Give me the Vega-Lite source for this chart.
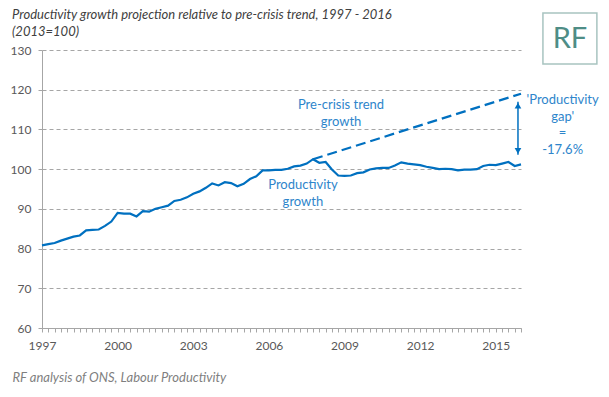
{
  "$schema": "https://vega.github.io/schema/vega-lite/v6.json",
  "width": 479,
  "height": 278,
  "autosize": {"type": "none"},
  "padding": {"left": 42, "top": 50, "right": 88, "bottom": 69},
  "background": "white",
  "config": {"view": {"stroke": null}, "font": "Lato"},
  "title": {
    "text": ["Productivity growth projection relative to pre-crisis trend, 1997 - 2016", "(2013=100)"],
    "anchor": "start", "frame": "group", "dx": -30, "dy": 36.5, "offset": 10,
    "font": "Lato", "fontSize": 13, "fontStyle": "italic", "fontWeight": "normal",
    "color": "#404040", "lineHeight": 16.5
  },
  "datasets": {
    "prod": [
      {"t": 1997.00, "v": 80.8}, {"t": 1997.25, "v": 81.1}, {"t": 1997.50, "v": 81.4}, {"t": 1997.75, "v": 82.0},
      {"t": 1998.00, "v": 82.5}, {"t": 1998.25, "v": 83.0}, {"t": 1998.50, "v": 83.3}, {"t": 1998.75, "v": 84.6},
      {"t": 1999.00, "v": 84.7}, {"t": 1999.25, "v": 84.8}, {"t": 1999.50, "v": 85.7}, {"t": 1999.75, "v": 86.8},
      {"t": 2000.00, "v": 89.0}, {"t": 2000.25, "v": 88.8}, {"t": 2000.50, "v": 88.8}, {"t": 2000.75, "v": 88.1},
      {"t": 2001.00, "v": 89.4}, {"t": 2001.25, "v": 89.3}, {"t": 2001.50, "v": 90.0}, {"t": 2001.75, "v": 90.4},
      {"t": 2002.00, "v": 90.8}, {"t": 2002.25, "v": 92.0}, {"t": 2002.50, "v": 92.3}, {"t": 2002.75, "v": 92.9},
      {"t": 2003.00, "v": 93.8}, {"t": 2003.25, "v": 94.4}, {"t": 2003.50, "v": 95.3}, {"t": 2003.75, "v": 96.4},
      {"t": 2004.00, "v": 95.9}, {"t": 2004.25, "v": 96.7}, {"t": 2004.50, "v": 96.5}, {"t": 2004.75, "v": 95.7},
      {"t": 2005.00, "v": 96.3}, {"t": 2005.25, "v": 97.5}, {"t": 2005.50, "v": 98.2}, {"t": 2005.75, "v": 99.7},
      {"t": 2006.00, "v": 99.7}, {"t": 2006.25, "v": 99.8}, {"t": 2006.50, "v": 99.8}, {"t": 2006.75, "v": 100.1},
      {"t": 2007.00, "v": 100.7}, {"t": 2007.25, "v": 100.9}, {"t": 2007.50, "v": 101.4}, {"t": 2007.75, "v": 102.5},
      {"t": 2008.00, "v": 101.6}, {"t": 2008.25, "v": 101.8}, {"t": 2008.50, "v": 99.9}, {"t": 2008.75, "v": 98.4},
      {"t": 2009.00, "v": 98.3}, {"t": 2009.25, "v": 98.4}, {"t": 2009.50, "v": 99.0}, {"t": 2009.75, "v": 99.2},
      {"t": 2010.00, "v": 99.9}, {"t": 2010.25, "v": 100.2}, {"t": 2010.50, "v": 100.3}, {"t": 2010.75, "v": 100.3},
      {"t": 2011.00, "v": 100.9}, {"t": 2011.25, "v": 101.7}, {"t": 2011.50, "v": 101.4}, {"t": 2011.75, "v": 101.2},
      {"t": 2012.00, "v": 101.0}, {"t": 2012.25, "v": 100.6}, {"t": 2012.50, "v": 100.3}, {"t": 2012.75, "v": 100.0},
      {"t": 2013.00, "v": 100.1}, {"t": 2013.25, "v": 100.0}, {"t": 2013.50, "v": 99.7}, {"t": 2013.75, "v": 99.9},
      {"t": 2014.00, "v": 99.9}, {"t": 2014.25, "v": 100.0}, {"t": 2014.50, "v": 100.8}, {"t": 2014.75, "v": 101.1},
      {"t": 2015.00, "v": 101.0}, {"t": 2015.25, "v": 101.4}, {"t": 2015.50, "v": 101.8}, {"t": 2015.75, "v": 100.8},
      {"t": 2016.00, "v": 101.2}
    ],
    "trend": [{"t": 2007.75, "v": 102.5}, {"t": 2016.0, "v": 119.0}],
    "notes": [
      {"t": 2008.86, "v": 116.1, "label": "Pre-crisis trend\ngrowth"},
      {"t": 2007.35, "v": 96.0, "label": "Productivity\ngrowth"},
      {"t": 2017.65, "v": 117.4, "label": "'Productivity\ngap'\n=\n-17.6%"}
    ],
    "gap": [{"t": 2015.88, "top": 117.0, "bottom": 103.6}],
    "heads": [{"t": 2015.88, "v": 116.0, "dir": "up"}, {"t": 2015.88, "v": 104.6, "dir": "down"}],
    "logo": [{"x1": 2016.87, "x2": 2019.01, "y1": 139.3, "y2": 126.5, "xm": 2017.94, "ym": 132.8, "label": "RF"}]
  },
  "layer": [
    {
      "data": {"name": "prod"},
      "mark": {"type": "line", "color": "#0070C0", "strokeWidth": 2.2},
      "encoding": {
        "x": {
          "field": "t", "type": "quantitative",
          "scale": {"domain": [1997, 2016], "nice": false, "zero": false},
          "axis": {
            "values": [1997,1997.25,1997.5,1997.75,1998,1998.25,1998.5,1998.75,1999,1999.25,1999.5,1999.75,2000,2000.25,2000.5,2000.75,2001,2001.25,2001.5,2001.75,2002,2002.25,2002.5,2002.75,2003,2003.25,2003.5,2003.75,2004,2004.25,2004.5,2004.75,2005,2005.25,2005.5,2005.75,2006,2006.25,2006.5,2006.75,2007,2007.25,2007.5,2007.75,2008,2008.25,2008.5,2008.75,2009,2009.25,2009.5,2009.75,2010,2010.25,2010.5,2010.75,2011,2011.25,2011.5,2011.75,2012,2012.25,2012.5,2012.75,2013,2013.25,2013.5,2013.75,2014,2014.25,2014.5,2014.75,2015,2015.25,2015.5,2015.75,2016],
            "tickCount": 200,
            "labelExpr": "(datum.value % 3 == 2) ? format(datum.value, 'd') : ''",
            "labelOverlap": false, "labelFlush": false, "labelBound": false,
            "grid": false, "ticks": true, "tickSize": 4, "tickColor": "#A6A6A6", "tickWidth": 1, "domainColor": "#A6A6A6",
            "labelFont": "Lato", "labelFontSize": 12, "labelColor": "#595959", "labelPadding": 8,
            "title": "RF analysis of ONS, Labour Productivity",
            "titleFont": "Lato", "titleFontSize": 13, "titleFontStyle": "italic", "titleFontWeight": "normal",
            "titleColor": "#7F7F7F", "titleAnchor": "start", "titleAlign": "left", "titleBaseline": "middle",
            "titleX": -30, "titleY": 49
          }
        },
        "y": {
          "field": "v", "type": "quantitative",
          "scale": {"domain": [60, 130], "nice": false, "zero": false},
          "axis": {
            "values": [60, 70, 80, 90, 100, 110, 120, 130],
            "tickCount": 20,
            "labelOverlap": false, "labelBound": false,
            "grid": true, "gridDash": [4, 3], "gridColor": "#A6A6A6", "gridWidth": 1,
            "tickSize": 4, "tickColor": "#A6A6A6", "domainColor": "#A6A6A6",
            "labelFont": "Lato", "labelFontSize": 12, "labelColor": "#595959", "labelPadding": 7,
            "title": null
          }
        }
      }
    },
    {
      "data": {"name": "trend"},
      "mark": {"type": "line", "color": "#0070C0", "strokeWidth": 2.2, "strokeDash": [10, 5]},
      "encoding": {
        "x": {"field": "t", "type": "quantitative"},
        "y": {"field": "v", "type": "quantitative"}
      }
    },
    {
      "data": {"name": "gap"},
      "mark": {"type": "rule", "color": "#0070C0", "strokeWidth": 1.5},
      "encoding": {
        "x": {"field": "t", "type": "quantitative"},
        "y": {"field": "top", "type": "quantitative"},
        "y2": {"field": "bottom"}
      }
    },
    {
      "data": {"name": "heads"},
      "mark": {"type": "point", "filled": true, "color": "#0070C0", "size": 45, "opacity": 1},
      "encoding": {
        "x": {"field": "t", "type": "quantitative"},
        "y": {"field": "v", "type": "quantitative"},
        "shape": {"field": "dir", "type": "nominal", "scale": {"domain": ["up", "down"], "range": ["triangle-up", "triangle-down"]}, "legend": null}
      }
    },
    {
      "data": {"name": "notes"},
      "mark": {"type": "text", "color": "#2E85CB", "font": "Lato", "fontSize": 13, "align": "center", "baseline": "middle", "lineBreak": "\n", "lineHeight": 16.7},
      "encoding": {
        "x": {"field": "t", "type": "quantitative"},
        "y": {"field": "v", "type": "quantitative"},
        "text": {"field": "label"}
      }
    },
    {
      "data": {"name": "logo"},
      "mark": {"type": "rect", "fill": "white", "stroke": "#A8C4C0", "strokeWidth": 1.5},
      "encoding": {
        "x": {"field": "x1", "type": "quantitative"},
        "x2": {"field": "x2"},
        "y": {"field": "y1", "type": "quantitative"},
        "y2": {"field": "y2"}
      }
    },
    {
      "data": {"name": "logo"},
      "mark": {"type": "text", "color": "#4E8D86", "font": "Lato", "fontSize": 29, "align": "center", "baseline": "middle"},
      "encoding": {
        "x": {"field": "xm", "type": "quantitative"},
        "y": {"field": "ym", "type": "quantitative"},
        "text": {"field": "label"}
      }
    }
  ]
}
